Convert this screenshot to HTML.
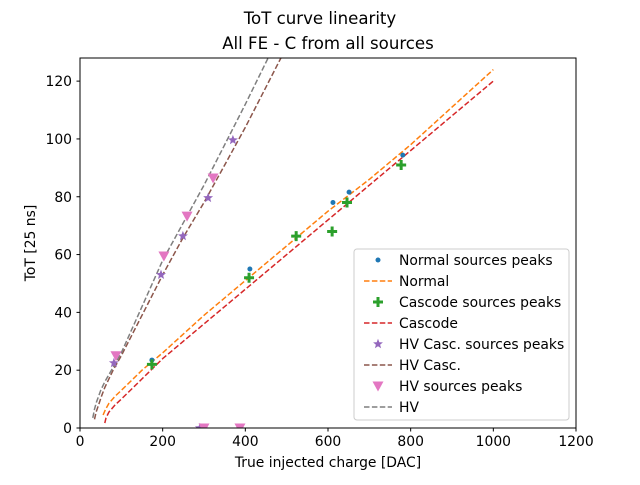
<!DOCTYPE html>
<html><head><meta charset="utf-8"><style>
body{margin:0;background:#fff}
text{font-family:"DejaVu Sans","Liberation Sans",sans-serif;fill:#000}
</style></head><body>
<svg id="c" width="640" height="480" xmlns="http://www.w3.org/2000/svg">
<text x="320" y="24" text-anchor="middle" font-size="16.6">ToT curve linearity</text>
<text x="328" y="49" text-anchor="middle" font-size="16.6">All FE - C from all sources</text>
<text x="328" y="467" text-anchor="middle" font-size="13.9">True injected charge [DAC]</text>
<text transform="translate(35,243) rotate(-90)" text-anchor="middle" font-size="13.9">ToT [25 ns]</text>
<defs><clipPath id="clip"><rect x="80" y="58" width="496" height="370"/></clipPath></defs>
<g id="marks" clip-path="url(#clip)"></g>
<g id="axes"></g>
<rect x="80" y="58" width="496" height="370" fill="none" stroke="#000" stroke-width="1"/>
<g id="legend"></g>
</svg>
<script>
const xTicks=[0,200,400,600,800,1000,1200];
const yTicks=[0,20,40,60,80,100,120];
const normalPeaksX=[174,411,612,651,781];
const normalPeaksY=[23.5,55,78,81.6,94.4];
const cascodePeaksX=[174,409,523,610,646,777];
const cascodePeaksY=[22,52,66.4,68,78,91];
const hvCascPeaksX=[82,196,249,310,370,290];
const hvCascPeaksY=[22.5,53,66.4,79.6,99.6,0];
const hvPeaksX=[87,203,259,322,300,387];
const hvPeaksY=[25,59.5,73.3,86.5,0,0];
const normalX=[56,62,70,85,100,125,150,200,300,400,500,600,700,800,900,1000];
const normalY=[4.5,6.5,8.5,11,13,16.5,20,26,39,51,63,75,86,98,111,124];
const cascodeX=[60,63,70,85,100,125,150,200,300,400,500,600,700,800,900,1000];
const cascodeY=[1.7,3.5,5.5,8,10,13.5,17,24,36,48,60,72,84,96,108,120];
const hvX=[31,35,40,50,60,80,100,150,200,250,300,350,400,455];
const hvY=[3.5,6.5,9,13,16,21,26,42,58,71,84,98,112,128];
const hvCascX=[35,39,45,52,60,80,100,150,200,250,300,350,400,486];
const hvCascY=[3,5.5,8,11,14,20,25,39,53,66,78,91,104,128];

const NS="http://www.w3.org/2000/svg";
const X=v=>80+v*496/1200, Y=v=>428-v*370/128;
function mk(t,a,p){const e=document.createElementNS(NS,t);for(const k in a)e.setAttribute(k,a[k]);p.appendChild(e);return e;}
const axes=document.getElementById('axes'),marks=document.getElementById('marks'),leg=document.getElementById('legend');
xTicks.forEach(v=>{
 const l=mk('line',{x1:X(v),x2:X(v),y1:428,y2:431.5,stroke:'#000'},axes);
 
 
 const t=mk('text',{x:X(v),y:446,'text-anchor':'middle','font-size':13.9},axes);t.textContent=v;
 
 
});
yTicks.forEach(v=>{
 const l=mk('line',{x1:76.5,x2:80,y1:Y(v),y2:Y(v),stroke:'#000'},axes);
 
 
 const t=mk('text',{x:72,y:Y(v)+5,'text-anchor':'end','font-size':13.9},axes);t.textContent=v;
 
 
});
function line(xs,ys,col,dash,name){
 const d=xs.map((x,i)=>(i?'L':'M')+X(x).toFixed(1)+','+Y(ys[i]).toFixed(1)).join('');
 const p=mk('path',{d:d,fill:'none',stroke:col,'stroke-width':1.5,'stroke-dasharray':dash,'stroke-linejoin':'round'},marks);
 
 
}
function marker(kind,cx,cy,col,p){
 let e;
 if(kind==='dot')e=mk('circle',{cx:cx,cy:cy,r:2.5,fill:col},p);
 else if(kind==='plus')e=mk('path',{d:`M${cx-5},${cy}H${cx+5}M${cx},${cy-5}V${cy+5}`,stroke:col,'stroke-width':3},p);
 else if(kind==='star'){let d='';for(let i=0;i<10;i++){const r=i%2?2.2:5.2,a=-Math.PI/2+i*Math.PI/5;d+=(i?'L':'M')+(cx+r*Math.cos(a)).toFixed(1)+','+(cy+r*Math.sin(a)).toFixed(1);}e=mk('path',{d:d+'Z',fill:col},p);}
 else e=mk('path',{d:`M${cx-5.5},${cy-4.5}L${cx+5.5},${cy-4.5}L${cx},${cy+5.5}Z`,fill:col},p);
 return e;
}
function pts(xs,ys,kind,col,name){xs.forEach((x,i)=>{const e=marker(kind,X(x),Y(ys[i]),col,marks);
 
 });}
line(normalX,normalY,'#ff7f0e','5.5,2.4','normal-curve');
line(cascodeX,cascodeY,'#d62728','5.5,2.4','cascode-curve');
line(hvCascX,hvCascY,'#8c564b','5.5,2.4','hv-casc-curve');
line(hvX,hvY,'#7f7f7f','5.5,2.4','hv-curve');
pts(normalPeaksX,normalPeaksY,'dot','#1f77b4','normal-peak');
pts(cascodePeaksX,cascodePeaksY,'plus','#2ca02c','cascode-peak');
pts(hvCascPeaksX,hvCascPeaksY,'star','#9467bd','hv-casc-peak');
pts(hvPeaksX,hvPeaksY,'tri','#e377c2','hv-peak');
const lb=mk('rect',{x:354,y:249,width:215,height:171,rx:3,fill:'#fff','fill-opacity':0.8,stroke:'#ccc'},leg);


const entries=[['Normal sources peaks','dot','#1f77b4'],['Normal','line','#ff7f0e'],['Cascode sources peaks','plus','#2ca02c'],['Cascode','line','#d62728'],['HV Casc. sources peaks','star','#9467bd'],['HV Casc.','line','#8c564b'],['HV sources peaks','tri','#e377c2'],['HV','line','#7f7f7f']];
entries.forEach((en,i)=>{
 const y=260+i*21;
 const g=mk('g',{},leg);
 
 
 if(en[1]==='line')mk('line',{x1:364,x2:392,y1:y,y2:y,stroke:en[2],'stroke-width':1.5,'stroke-dasharray':'5.5,2.4'},g);
 else marker(en[1],378,y,en[2],g);
 const t=mk('text',{x:399,y:y+5,'font-size':13.9},g);t.textContent=en[0];
});
</script>
</body></html>
